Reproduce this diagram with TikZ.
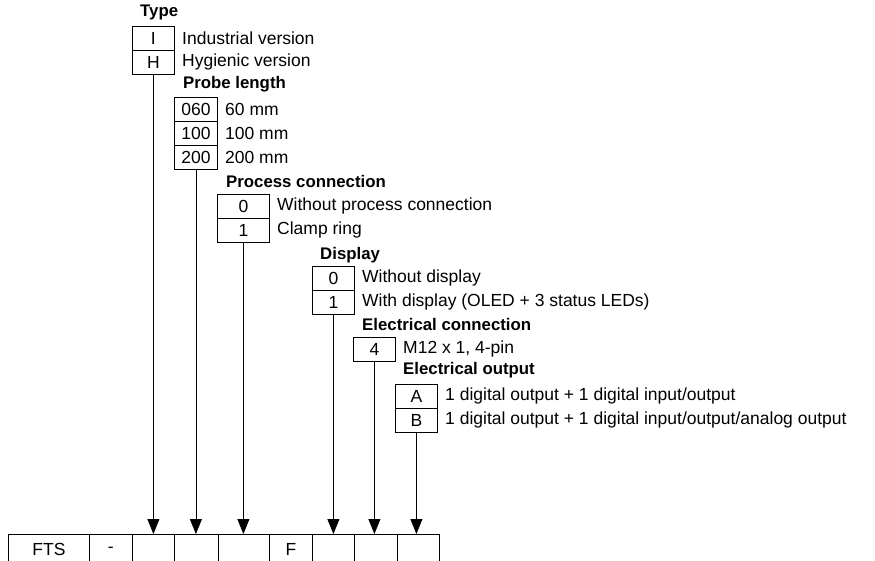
\documentclass[tikz,border=0pt]{standalone}
\usepackage{fontspec}
\setmainfont{Liberation Sans}
\usetikzlibrary{arrows.meta}
\begin{document}
\begin{tikzpicture}[x=1pt,y=-1pt,
  every node/.style={inner sep=0pt, font=\fontsize{17.5}{20}\selectfont},
  codebox/.style={draw, line width=0.8pt, minimum height=24pt, anchor=north west},
  desc/.style={anchor=west},
  head/.style={anchor=west, font=\fontsize{16.8}{20}\selectfont\bfseries},
  cellbox/.style={draw, line width=0.8pt, minimum height=30pt, anchor=north west},
  conn/.style={line width=0.8pt, -{Triangle[width=12pt,length=15pt]}}]
\useasboundingbox (0,0) rectangle (875,560);
\clip (0,0) rectangle (875,560);
% Type
\node[head] (hType) at (140,12) {Type};
\node[codebox, minimum width=42pt] (tI) at (132,26) {I};
\node[codebox, minimum width=42pt] (tH) at (132,50) {H};
\node[desc] (dI) at (182,38) {Industrial version};
\node[desc] (dH) at (182,62) {Hygienic version};
% Probe length
\node[head] (hProbe) at (183,84) {Probe length};
\node[codebox, minimum width=43pt] (p1) at (174,97) {060};
\node[codebox, minimum width=43pt] (p2) at (174,121) {100};
\node[codebox, minimum width=43pt] (p3) at (174,145) {200};
\node[desc] (dp1) at (225,109) {60 mm};
\node[desc] (dp2) at (225,133) {100 mm};
\node[desc] (dp3) at (225,157) {200 mm};
% Process connection
\node[head] (hProc) at (226,181) {Process connection};
\node[codebox, minimum width=52pt] (c0) at (217,194) {0};
\node[codebox, minimum width=52pt] (c1) at (217,218) {1};
\node[desc] (dc0) at (277,206) {Without process connection};
\node[desc] (dc1) at (277,230) {Clamp ring};
% Display
\node[head] (hDisp) at (320,255) {Display};
\node[codebox, minimum width=42pt] (s0) at (312,266) {0};
\node[codebox, minimum width=42pt] (s1) at (312,290) {1};
\node[desc] (ds0) at (362,278) {Without display};
\node[desc] (ds1) at (362,302) {With display (OLED + 3 status LEDs)};
% Electrical connection
\node[head] (hEc) at (362,324) {Electrical connection};
\node[codebox, minimum width=42pt] (e4) at (353,337) {4};
\node[desc] (de4) at (403,349) {M12 x 1, 4-pin};
% Electrical output
\node[head] (hEo) at (403,370) {Electrical output};
\node[codebox, minimum width=42pt] (oA) at (395,384) {A};
\node[codebox, minimum width=42pt] (oB) at (395,408) {B};
\node[desc] (doA) at (445,396) {1 digital output + 1 digital input/output};
\node[desc] (doB) at (445,420) {1 digital output + 1 digital input/output/analog output};
% Bottom row
\node[cellbox, minimum width=81pt] (k1) at (8,534) {FTS};
\node[cellbox, minimum width=43pt] (k2) at (89,534) {-};
\node[cellbox, minimum width=42pt] (k3) at (132,534) {};
\node[cellbox, minimum width=44pt] (k4) at (174,534) {};
\node[cellbox, minimum width=51pt] (k5) at (218,534) {};
\node[cellbox, minimum width=43pt] (k6) at (269,534) {F};
\node[cellbox, minimum width=42pt] (k7) at (312,534) {};
\node[cellbox, minimum width=43pt] (k8) at (354,534) {};
\node[cellbox, minimum width=42pt] (k9) at (397,534) {};
% Connectors
\draw[conn] (tH.south) -- (tH.south |- k3.north);
\draw[conn] (p3.south) -- (p3.south |- k4.north);
\draw[conn] (c1.south) -- (c1.south |- k5.north);
\draw[conn] (s1.south) -- (s1.south |- k7.north);
\draw[conn] (e4.south) -- (e4.south |- k8.north);
\draw[conn] (oB.south) -- (oB.south |- k9.north);
\end{tikzpicture}
\end{document}
